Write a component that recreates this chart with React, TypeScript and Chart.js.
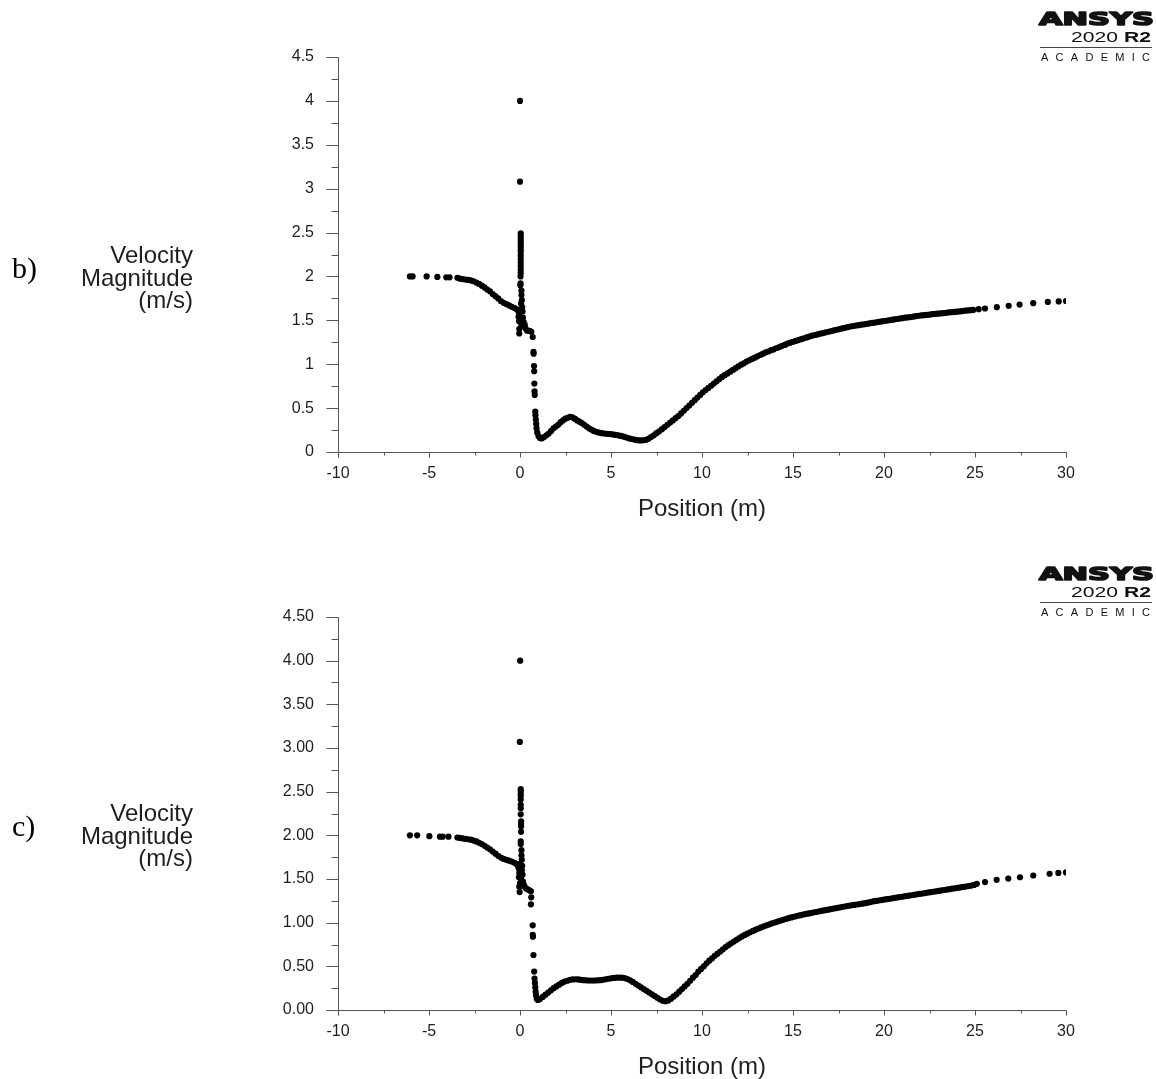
import React, { useEffect, useRef } from "react";
import { Chart, registerables } from "chart.js";

Chart.register(...registerables);

// ---- axis ranges / labels ----
const X_MIN = -10;
const X_MAX = 30;
const X_STEP = 5;
const Y_MIN = 0;
const Y_MAX = 4.5;
const Y_STEP = 0.5;
const yTitleLines = ["Velocity", "Magnitude", "(m/s)"];
const xTitle = "Position (m)";
const panelB = "b)";
const panelC = "c)";
const logoMain = "ANSYS";
const logoYear = "2020 ";
const logoRel = "R2";
const logoSub = "ACADEMIC";

// ================= panel b) =================
// upstream part + spike at the inlet
const bUpPosition = [
  -6.05, -5.9, -5.13, -4.54, -4.05, -3.87, -3.44, -3.3, -3.15, -3.0, -2.85, -2.7, -2.55, -2.4, -2.25, -2.1,
  -1.95, -1.8, -1.65, -1.5, -1.35, -1.2, -1.05, -0.9, -0.75, -0.6, -0.45, -0.3, -0.18, -0.08,
  0.0, 0.0, 0.04, 0.04, 0.04, 0.04, 0.04, 0.04, 0.04, 0.04, 0.04, 0.04, 0.04, 0.04, 0.04, 0.04, 0.03, 0.03,
  0.02, 0.08, 0.08, 0.1, 0.06, 0.12, -0.04, 0.14, -0.08, 0.16, -0.05, 0.2, 0.08, 0.26, -0.04, 0.3, -0.04,
  0.38, 0.46, 0.54, 0.62,
  0.7, 0.74, 0.75, 0.77, 0.78, 0.79, 0.8, 0.81, 0.84, 0.85, 0.87, 0.89, 0.91, 0.95, 1.02, 1.1, 1.19,
];
const bUpVelocity = [
  2.0, 2.0, 2.0, 1.995, 1.99, 1.99, 1.985, 1.975, 1.97, 1.965, 1.96, 1.955, 1.945, 1.93, 1.915, 1.895,
  1.875, 1.85, 1.83, 1.8, 1.775, 1.75, 1.72, 1.7, 1.685, 1.67, 1.655, 1.64, 1.625, 1.6,
  4.0, 3.08, 2.49, 2.46, 2.43, 2.4, 2.37, 2.34, 2.31, 2.28, 2.24, 2.2, 2.16, 2.12, 2.08, 2.04, 2.0, 1.92,
  1.9, 1.84, 1.79, 1.73, 1.69, 1.65, 1.58, 1.6, 1.54, 1.53, 1.49, 1.48, 1.44, 1.45, 1.4, 1.41, 1.35,
  1.385, 1.38, 1.38, 1.37,
  1.31, 1.14, 1.12, 0.98, 0.92, 0.78, 0.69, 0.65, 0.46, 0.42, 0.37, 0.32, 0.27, 0.22, 0.18, 0.16, 0.155,
];
// low-velocity zone
const bLowPosition = [
  1.32, 1.45, 1.58, 1.71, 1.84, 1.97, 2.1, 2.23, 2.36, 2.49, 2.62, 2.75, 2.88, 3.01, 3.14, 3.27, 3.4, 3.53,
  3.66, 3.79, 3.92, 4.05, 4.2, 4.35, 4.5, 4.65, 4.8, 4.95, 5.1, 5.25, 5.4, 5.55, 5.7, 5.85, 6.0, 6.15, 6.3,
  6.45, 6.6, 6.75, 6.9, 7.05, 7.2, 7.35, 7.5, 7.65, 7.8, 7.95, 8.1, 8.25, 8.4, 8.55, 8.7, 8.85, 9.0, 9.15,
  9.3, 9.45, 9.6, 9.75, 9.9, 10.05,
];
const bLowVelocity = [
  0.17, 0.19, 0.21, 0.24, 0.27, 0.29, 0.31, 0.34, 0.36, 0.38, 0.39, 0.4, 0.395, 0.38, 0.36, 0.345, 0.33, 0.31,
  0.29, 0.27, 0.255, 0.24, 0.23, 0.22, 0.215, 0.21, 0.207, 0.205, 0.2, 0.195, 0.19, 0.183, 0.175, 0.165, 0.155, 0.148, 0.14,
  0.135, 0.132, 0.133, 0.138, 0.15, 0.17, 0.19, 0.215, 0.235, 0.26, 0.285, 0.31, 0.335, 0.36, 0.385, 0.41, 0.44, 0.47, 0.5,
  0.53, 0.56, 0.59, 0.62, 0.65, 0.68,
];
// recovery downstream
const bRecPosition = [
  10.2, 10.35, 10.5, 10.65, 10.8, 10.95, 11.1, 11.25, 11.4, 11.55, 11.7, 11.85, 12.0, 12.15, 12.3, 12.45,
  12.6, 12.75, 12.9, 13.05, 13.2, 13.35, 13.5, 13.65, 13.8, 13.95, 14.1, 14.25, 14.4, 14.55, 14.7, 14.85,
  15.0, 15.15, 15.3, 15.45, 15.6, 15.75, 15.9, 16.05, 16.2, 16.35, 16.5, 16.65, 16.8, 16.95, 17.1, 17.25,
  17.4, 17.55, 17.7, 17.85, 18.0, 18.15, 18.3, 18.45, 18.6, 18.75, 18.9, 19.05, 19.2, 19.35, 19.5, 19.65,
  19.8, 19.95, 20.1, 20.25, 20.4, 20.55, 20.7, 20.85, 21.0, 21.15, 21.3, 21.45, 21.6, 21.75, 21.9, 22.05,
  22.2, 22.35, 22.5, 22.65, 22.8, 22.95, 23.1, 23.25, 23.4, 23.55, 23.7, 23.85, 24.0, 24.15, 24.3, 24.45,
  24.6, 24.75, 24.9,
  25.2, 25.55, 26.2, 26.85, 27.45, 28.2, 29.0, 29.6, 30.0,
];
const bRecVelocity = [
  0.705, 0.73, 0.755, 0.78, 0.805, 0.83, 0.855, 0.875, 0.895, 0.915, 0.935, 0.955, 0.975, 0.995, 1.01, 1.03,
  1.045, 1.06, 1.075, 1.09, 1.105, 1.12, 1.135, 1.145, 1.16, 1.17, 1.185, 1.195, 1.21, 1.22, 1.235, 1.245,
  1.255, 1.265, 1.275, 1.285, 1.295, 1.305, 1.315, 1.325, 1.333, 1.34, 1.348, 1.355, 1.363, 1.37, 1.378, 1.385,
  1.393, 1.4, 1.408, 1.415, 1.422, 1.43, 1.435, 1.44, 1.445, 1.45, 1.455, 1.46, 1.465, 1.47, 1.475, 1.48,
  1.485, 1.49, 1.495, 1.5, 1.505, 1.51, 1.515, 1.52, 1.525, 1.53, 1.533, 1.537, 1.542, 1.547, 1.552, 1.556,
  1.559, 1.562, 1.566, 1.57, 1.573, 1.576, 1.579, 1.582, 1.586, 1.59, 1.593, 1.596, 1.599, 1.602, 1.606, 1.61,
  1.613, 1.616, 1.619,
  1.627, 1.635, 1.65, 1.665, 1.68, 1.695, 1.71, 1.715, 1.72,
];

// ================= panel c) =================
const cUpPosition = [
  -6.05, -5.65, -4.98, -4.4, -4.25, -3.93, -3.44, -3.3, -3.15, -3.0, -2.85, -2.7, -2.55, -2.4, -2.25, -2.1,
  -1.95, -1.8, -1.65, -1.5, -1.35, -1.2, -1.05, -0.9, -0.75, -0.6, -0.45, -0.3, -0.18, -0.1,
  0.01, -0.01, 0.04, 0.04, 0.04, 0.04, 0.04, 0.04, 0.04, 0.04, 0.06, 0.06, 0.06, 0.06, 0.04, 0.04, 0.08,
  0.08, 0.1, -0.04, 0.12, -0.06, 0.1, -0.04, 0.14, -0.06, 0.06, 0.16, 0.0, 0.2, -0.04, 0.26, -0.02, 0.34,
  0.44, 0.52, 0.6, 0.62, 0.6,
  0.7, 0.7, 0.71, 0.74, 0.78, 0.8, 0.82, 0.84, 0.86, 0.88, 0.92, 0.98,
];
const cUpVelocity = [
  2.0, 2.0, 1.99, 1.985, 1.985, 1.985, 1.975, 1.97, 1.965, 1.96, 1.955, 1.95, 1.94, 1.93, 1.915, 1.9,
  1.88, 1.86, 1.84, 1.815, 1.79, 1.765, 1.745, 1.73, 1.72, 1.71, 1.7, 1.685, 1.67, 1.64,
  4.0, 3.07, 2.53, 2.51, 2.48, 2.45, 2.41, 2.35, 2.31, 2.24, 2.16, 2.13, 2.1, 2.04, 1.93, 1.9, 1.83,
  1.77, 1.72, 1.67, 1.65, 1.62, 1.6, 1.57, 1.55, 1.52, 1.5, 1.47, 1.45, 1.44, 1.41, 1.41, 1.35, 1.39,
  1.38, 1.37, 1.36, 1.29, 1.21,
  0.97, 0.86, 0.84, 0.63, 0.44, 0.36, 0.31, 0.26, 0.21, 0.17, 0.13, 0.115,
];
const cLowPosition = [
  1.1, 1.25, 1.4, 1.55, 1.7, 1.85, 2.0, 2.15, 2.3, 2.45, 2.6, 2.75, 2.9, 3.05, 3.2, 3.35, 3.5, 3.65, 3.8,
  3.95, 4.1, 4.25, 4.4, 4.55, 4.7, 4.85, 5.0, 5.15, 5.3, 5.45, 5.6, 5.75, 5.9, 6.05, 6.2, 6.35, 6.5, 6.65,
  6.8, 6.95, 7.1, 7.25, 7.4, 7.55, 7.7, 7.85, 8.0, 8.15, 8.3, 8.45, 8.6, 8.75, 8.9, 9.05, 9.2, 9.35, 9.5,
  9.65, 9.8, 9.95, 10.1,
];
const cLowVelocity = [
  0.125, 0.15, 0.175, 0.2, 0.225, 0.25, 0.27, 0.29, 0.31, 0.325, 0.335, 0.345, 0.35, 0.352, 0.35, 0.345, 0.342, 0.34, 0.338,
  0.338, 0.338, 0.34, 0.342, 0.346, 0.352, 0.358, 0.363, 0.367, 0.37, 0.371, 0.37, 0.365, 0.355, 0.34, 0.322, 0.3, 0.28, 0.26,
  0.24, 0.22, 0.2, 0.18, 0.16, 0.14, 0.12, 0.105, 0.1, 0.11, 0.13, 0.155, 0.18, 0.21, 0.24, 0.27, 0.3, 0.335, 0.37,
  0.4, 0.44, 0.47, 0.5,
];
const cRecPosition = [
  10.25, 10.4, 10.55, 10.7, 10.85, 11.0, 11.15, 11.3, 11.45, 11.6, 11.75, 11.9, 12.05, 12.2, 12.35, 12.5,
  12.65, 12.8, 12.95, 13.1, 13.25, 13.4, 13.55, 13.7, 13.85, 14.0, 14.15, 14.3, 14.45, 14.6, 14.75, 14.9,
  15.05, 15.2, 15.35, 15.5, 15.65, 15.8, 15.95, 16.1, 16.25, 16.4, 16.55, 16.7, 16.85, 17.0, 17.15, 17.3,
  17.45, 17.6, 17.75, 17.9, 18.05, 18.2, 18.35, 18.5, 18.65, 18.8, 18.95, 19.1, 19.25, 19.4, 19.55, 19.7,
  19.85, 20.0, 20.15, 20.3, 20.45, 20.6, 20.75, 20.9, 21.05, 21.2, 21.35, 21.5, 21.65, 21.8, 21.95, 22.1,
  22.25, 22.4, 22.55, 22.7, 22.85, 23.0, 23.15, 23.3, 23.45, 23.6, 23.75, 23.9, 24.05, 24.2, 24.35, 24.5,
  24.65, 24.8, 24.95,
  25.1, 25.55, 26.19, 26.83, 27.47, 28.2, 29.1, 29.58, 30.0,
];
const cRecVelocity = [
  0.535, 0.565, 0.59, 0.62, 0.645, 0.67, 0.695, 0.72, 0.742, 0.764, 0.784, 0.804, 0.823, 0.842, 0.86, 0.875,
  0.89, 0.905, 0.92, 0.933, 0.946, 0.958, 0.97, 0.981, 0.992, 1.002, 1.012, 1.022, 1.032, 1.042, 1.051, 1.06,
  1.068, 1.075, 1.083, 1.09, 1.097, 1.103, 1.109, 1.115, 1.122, 1.128, 1.134, 1.14, 1.146, 1.152, 1.158, 1.164,
  1.17, 1.176, 1.182, 1.188, 1.193, 1.198, 1.203, 1.208, 1.213, 1.218, 1.223, 1.229, 1.236, 1.243, 1.249, 1.254,
  1.259, 1.264, 1.269, 1.274, 1.279, 1.284, 1.289, 1.294, 1.299, 1.304, 1.309, 1.314, 1.319, 1.324, 1.329, 1.334,
  1.339, 1.344, 1.349, 1.354, 1.359, 1.364, 1.369, 1.374, 1.379, 1.384, 1.389, 1.394, 1.399, 1.404, 1.409, 1.414,
  1.419, 1.425, 1.432,
  1.445, 1.465, 1.49, 1.505, 1.52, 1.54, 1.56, 1.57, 1.575,
];

const bPosition = [...bUpPosition, ...bLowPosition, ...bRecPosition];
const bVelocity = [...bUpVelocity, ...bLowVelocity, ...bRecVelocity];
const cPosition = [...cUpPosition, ...cLowPosition, ...cRecPosition];
const cVelocity = [...cUpVelocity, ...cLowVelocity, ...cRecVelocity];

const SANS = '"Liberation Sans", Arial, Helvetica, sans-serif';
const AXIS_COLOR = "#555555";
const TEXT_COLOR = "#1e1e1e";

type PanelCfg = {
  panel: string;
  logoDy: number;
};

function decorPlugin(cfg: PanelCfg) {
  return {
    id: "decor",
    afterDraw(chart: any) {
      const ctx: CanvasRenderingContext2D = chart.ctx;
      const xs = chart.scales.x;
      const ys = chart.scales.y;
      const ax = Math.round(xs.getPixelForValue(X_MIN)) + 0.5;
      const ay = Math.round(ys.getPixelForValue(Y_MIN)) + 0.5;
      const xEnd = Math.round(xs.getPixelForValue(X_MAX)) + 0.5;
      const yTop = Math.round(ys.getPixelForValue(Y_MAX)) + 0.5;
      ctx.save();
      ctx.strokeStyle = AXIS_COLOR;
      ctx.lineWidth = 1;
      ctx.beginPath();
      ctx.moveTo(ax, yTop);
      ctx.lineTo(ax, ay + 5);
      ctx.moveTo(ax, ay);
      ctx.lineTo(xEnd, ay);
      const nY = Math.round((Y_MAX - Y_MIN) / (Y_STEP / 2));
      for (let i = 0; i <= nY; i++) {
        const py = Math.round(ys.getPixelForValue(Y_MIN + i * (Y_STEP / 2))) + 0.5;
        const len = i % 2 === 0 ? 12 : 7;
        ctx.moveTo(ax - len, py);
        ctx.lineTo(ax, py);
      }
      const nX = Math.round((X_MAX - X_MIN) / (X_STEP / 2));
      for (let i = 0; i <= nX; i++) {
        const px = Math.round(xs.getPixelForValue(X_MIN + i * (X_STEP / 2))) + 0.5;
        const len = i % 2 === 0 ? 5 : 3;
        ctx.moveTo(px, ay);
        ctx.lineTo(px, ay + len);
      }
      ctx.stroke();

      // y title (horizontal, right aligned)
      ctx.fillStyle = TEXT_COLOR;
      ctx.font = `24px ${SANS}`;
      ctx.textAlign = "right";
      ctx.textBaseline = "alphabetic";
      const baselines = [263, 285.5, 308];
      yTitleLines.forEach((t, i) => ctx.fillText(t, 193, baselines[i]));

      // x title
      ctx.textAlign = "center";
      ctx.fillText(xTitle, (chart.chartArea.left + chart.chartArea.right) / 2, 515.5);

      // panel letter
      ctx.textAlign = "left";
      ctx.font = '30px "Liberation Serif", "Times New Roman", serif';
      ctx.fillStyle = "#000";
      ctx.fillText(cfg.panel, 12, 278);

      // logo
      const dy = cfg.logoDy;
      ctx.fillStyle = "#111";
      ctx.font = 'bold 18px "DejaVu Sans", sans-serif';
      const w1 = ctx.measureText(logoMain).width;
      const target1 = 115;
      ctx.save();
      ctx.translate(1154 - target1, 25 + dy);
      ctx.scale(target1 / w1, 1);
      ctx.strokeStyle = "#111";
      ctx.lineWidth = 1.6;
      ctx.lineJoin = "round";
      ctx.strokeText(logoMain, 0, 0);
      ctx.fillText(logoMain, 0, 0);
      ctx.restore();

      ctx.font = `14px ${SANS}`;
      const wy = ctx.measureText(logoYear).width;
      ctx.font = `bold 14px ${SANS}`;
      const wr = ctx.measureText(logoRel).width;
      const target2 = 80;
      const s2 = target2 / (wy + wr);
      ctx.save();
      ctx.translate(1151 - target2, 42 + dy);
      ctx.scale(s2, 1);
      ctx.font = `14px ${SANS}`;
      ctx.fillText(logoYear, 0, 0);
      ctx.font = `bold 14px ${SANS}`;
      ctx.fillText(logoRel, wy, 0);
      ctx.restore();

      ctx.strokeStyle = "#444";
      ctx.lineWidth = 1;
      ctx.beginPath();
      ctx.moveTo(1040, 47.5 + dy);
      ctx.lineTo(1152, 47.5 + dy);
      ctx.stroke();

      ctx.font = `11px ${SANS}`;
      const chars = logoSub.split("");
      const widths = chars.map((c) => ctx.measureText(c).width);
      const sum = widths.reduce((a, b) => a + b, 0);
      const gap = (109 - sum) / (chars.length - 1);
      let cx = 1041;
      chars.forEach((c, i) => {
        ctx.fillText(c, cx, 61 + dy);
        cx += widths[i] + gap;
      });
      ctx.restore();
    },
  };
}

type PanelProps = {
  top: number;
  height: number;
  positions: number[];
  velocities: number[];
  panel: string;
  decimals: number;
  padTop: number;
  padBottom: number;
  logoDy: number;
};

function Panel(props: PanelProps) {
  const ref = useRef<HTMLCanvasElement | null>(null);
  useEffect(() => {
    if (!ref.current) return;
    const pts = props.positions.map((x, i) => ({ x, y: props.velocities[i] }));
    const fmt = (v: any) =>
      props.decimals > 0 ? Number(v).toFixed(props.decimals) : String(Math.round(Number(v) * 10) / 10);
    const chart = new Chart(ref.current, {
      type: "scatter",
      data: {
        datasets: [
          {
            data: pts,
            backgroundColor: "#000",
            borderColor: "#000",
            pointRadius: 3.1,
            pointHoverRadius: 3.1,
            pointBorderWidth: 0,
            borderWidth: 0,
            showLine: false,
          },
        ],
      },
      options: {
        animation: false,
        responsive: false,
        devicePixelRatio: 1,
        events: [],
        layout: { padding: { left: 248, right: 90, top: props.padTop, bottom: props.padBottom } },
        plugins: { legend: { display: false }, tooltip: { enabled: false }, title: { display: false } },
        scales: {
          x: {
            type: "linear",
            min: X_MIN,
            max: X_MAX,
            afterFit: (s: any) => {
              s.height = 60;
            },
            grid: { display: false, drawTicks: false, drawOnChartArea: false },
            border: { display: false },
            ticks: {
              stepSize: X_STEP,
              autoSkip: false,
              maxRotation: 0,
              padding: 12,
              color: TEXT_COLOR,
              font: { family: SANS, size: 16 },
              callback: (v: any) => String(v),
            },
          },
          y: {
            type: "linear",
            min: Y_MIN,
            max: Y_MAX,
            afterFit: (s: any) => {
              s.width = 90;
            },
            grid: { display: false, drawTicks: false, drawOnChartArea: false },
            border: { display: false },
            ticks: {
              stepSize: Y_STEP,
              autoSkip: false,
              padding: 24,
              color: TEXT_COLOR,
              font: { family: SANS, size: 16 },
              callback: fmt,
            },
          },
        },
      },
      plugins: [decorPlugin({ panel: props.panel, logoDy: props.logoDy })],
    } as any);
    return () => chart.destroy();
  }, []);
  return (
    <div style={{ position: "absolute", left: 0, top: props.top, width: 1156, height: props.height }}>
      <canvas ref={ref} width={1156} height={props.height} style={{ width: 1156, height: props.height, display: "block" }} />
    </div>
  );
}

export default function App() {
  return (
    <div style={{ position: "absolute", left: 0, top: 0, width: 1156, height: 1079, background: "#fff", overflow: "hidden" }}>
      <Panel top={0} height={540} positions={bPosition} velocities={bVelocity} panel={panelB} decimals={0} padTop={57} padBottom={28} logoDy={0} />
      <Panel top={558} height={521} positions={cPosition} velocities={cVelocity} panel={panelC} decimals={2} padTop={59} padBottom={9} logoDy={-3} />
    </div>
  );
}
